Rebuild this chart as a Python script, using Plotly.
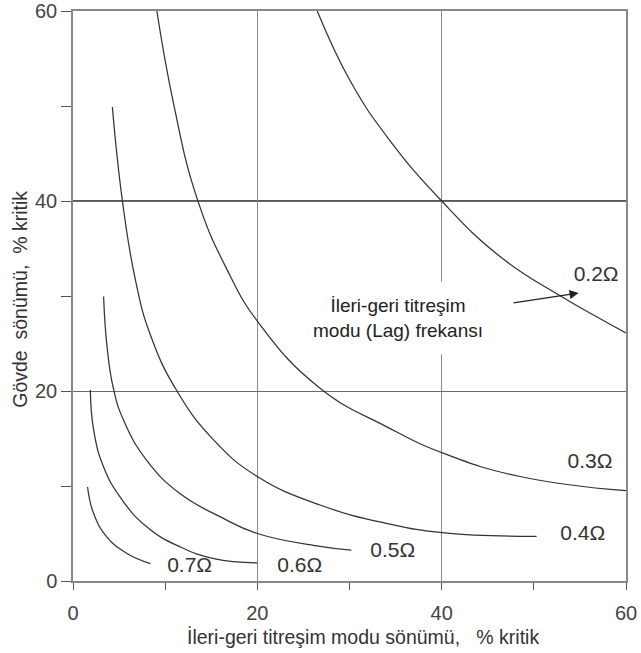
import plotly.graph_objects as go

# ---- data ----
x_02 = [26.5, 30.1, 34.2, 40.0, 46.4, 52.9, 57.2, 60.0]
y_02 = [60.0, 52.6, 46.6, 40.0, 34.1, 30.0, 27.6, 26.1]

x_03 = [9.1, 10.9, 13.45, 16.7, 20.2, 26.8, 34.1, 40.3, 48.5, 60.0]
y_03 = [60.0, 50.3, 40.3, 32.8, 27.1, 20.3, 16.2, 13.4, 11.0, 9.5]

x_04 = [4.27, 5.35, 6.77, 8.4, 11.28, 15.3, 20.0, 26.8, 34.1, 40.3, 50.3]
y_04 = [49.9, 40.1, 31.7, 25.9, 20.0, 14.8, 11.0, 8.0, 6.05, 5.06, 4.7]

x_05 = [3.32, 3.69, 4.4, 5.5, 8.0, 11.6, 16.0, 20.0, 26.8, 30.2]
y_05 = [29.95, 24.7, 20.2, 16.9, 12.7, 9.2, 6.75, 5.0, 3.65, 3.24]

x_06 = [1.88, 2.24, 3.32, 5.1, 8.0, 11.6, 15.3, 20.0]
y_06 = [20.1, 15.9, 12.0, 8.86, 5.7, 3.6, 2.36, 1.9]

x_07 = [1.58, 2.24, 3.7, 5.86, 8.4]
y_07 = [9.9, 7.1, 4.6, 2.9, 1.83]

curve_labels = ["0.2Ω", "0.3Ω", "0.4Ω", "0.5Ω", "0.6Ω", "0.7Ω"]
label_x = [56.76, 56.1, 55.3, 34.7, 24.6, 12.65]
label_y = [32.18, 12.46, 4.87, 3.08, 1.5, 1.5]

note_text = "İleri-geri titreşim<br>modu (Lag) frekansı"
note_pos = (35.3, 27.7)
arrow_tail = (47.63, 29.25)
arrow_head = (54.86, 30.31)

x_tickvals = [0, 20, 40, 60]
y_tickvals = [0, 20, 40, 60]
x_title = "İleri-geri titreşim modu sönümü,   % kritik"
y_title = "Gövde  sönümü,  % kritik"

FONT = "Liberation Sans, Arial, sans-serif"
CURVE = "#333333"

fig = go.Figure()
for xs, ys in [(x_02, y_02), (x_03, y_03), (x_04, y_04), (x_05, y_05), (x_06, y_06), (x_07, y_07)]:
    fig.add_trace(go.Scatter(x=xs, y=ys, mode="lines",
                             line=dict(color=CURVE, width=1.25, shape="spline", smoothing=1.3),
                             showlegend=False, hoverinfo="skip"))

fig.add_trace(go.Scatter(x=label_x, y=label_y, mode="text", text=curve_labels,
                         textfont=dict(family=FONT, size=21, color="#333333"),
                         textposition="middle center", showlegend=False, hoverinfo="skip"))

# emphasised horizontal grid line at 40
fig.add_shape(type="line", xref="paper", x0=0, x1=1, yref="y", y0=40, y1=40,
              line=dict(color="#222222", width=1.4), layer="below")

fig.add_annotation(x=note_pos[0], y=note_pos[1], xref="x", yref="y", text=note_text,
                   showarrow=False, font=dict(family=FONT, size=19, color="#222222"),
                   bgcolor="white", borderpad=13, align="center")
fig.add_annotation(x=arrow_head[0], y=arrow_head[1], ax=arrow_tail[0], ay=arrow_tail[1],
                   xref="x", yref="y", axref="x", ayref="y", text="", showarrow=True,
                   arrowhead=2, arrowsize=1.4, arrowwidth=1.3, arrowcolor="#222222")

fig.add_annotation(x=0.525, y=-0.098, xref="paper", yref="paper", text=x_title, showarrow=False,
                   font=dict(family=FONT, size=19.5, color="#333333"), yanchor="middle")
fig.add_annotation(x=-0.096, y=0.495, xref="paper", yref="paper", text=y_title, showarrow=False,
                   textangle=-90, font=dict(family=FONT, size=19.5, color="#333333"), xanchor="center")

axis_common = dict(range=[0, 60], showline=True, linecolor="#888888", linewidth=1.5, mirror=True,
                   ticks="outside", tickcolor="#555555", tickwidth=1.3, automargin=False,
                   tickfont=dict(family=FONT, size=20, color="#444444"), zeroline=False,
                   showgrid=True, gridwidth=1.3)
fig.update_xaxes(**axis_common, tickvals=x_tickvals, ticklen=7, gridcolor="#8a8a8a",
                 ticklabelstandoff=6,
                 minor=dict(tickvals=[10, 30, 50], ticks="outside", ticklen=7, tickcolor="#555555",
                            showgrid=False))
fig.update_yaxes(**axis_common, tickvals=y_tickvals, ticklen=10, gridcolor="#6a6a6a",
                 minor=dict(tickvals=[10, 30, 50], ticks="outside", ticklen=10, tickcolor="#555555",
                            showgrid=False))

fig.update_layout(width=641, height=653, margin=dict(l=73, r=15, t=11, b=72, pad=0),
                  plot_bgcolor="white", paper_bgcolor="white", showlegend=False,
                  font=dict(family=FONT))

fig.write_html("out.html", config={"displayModeBar": False},
               post_script="document.body.style.margin='0';document.body.style.padding='0';"
                           "document.body.style.overflow='hidden';")
